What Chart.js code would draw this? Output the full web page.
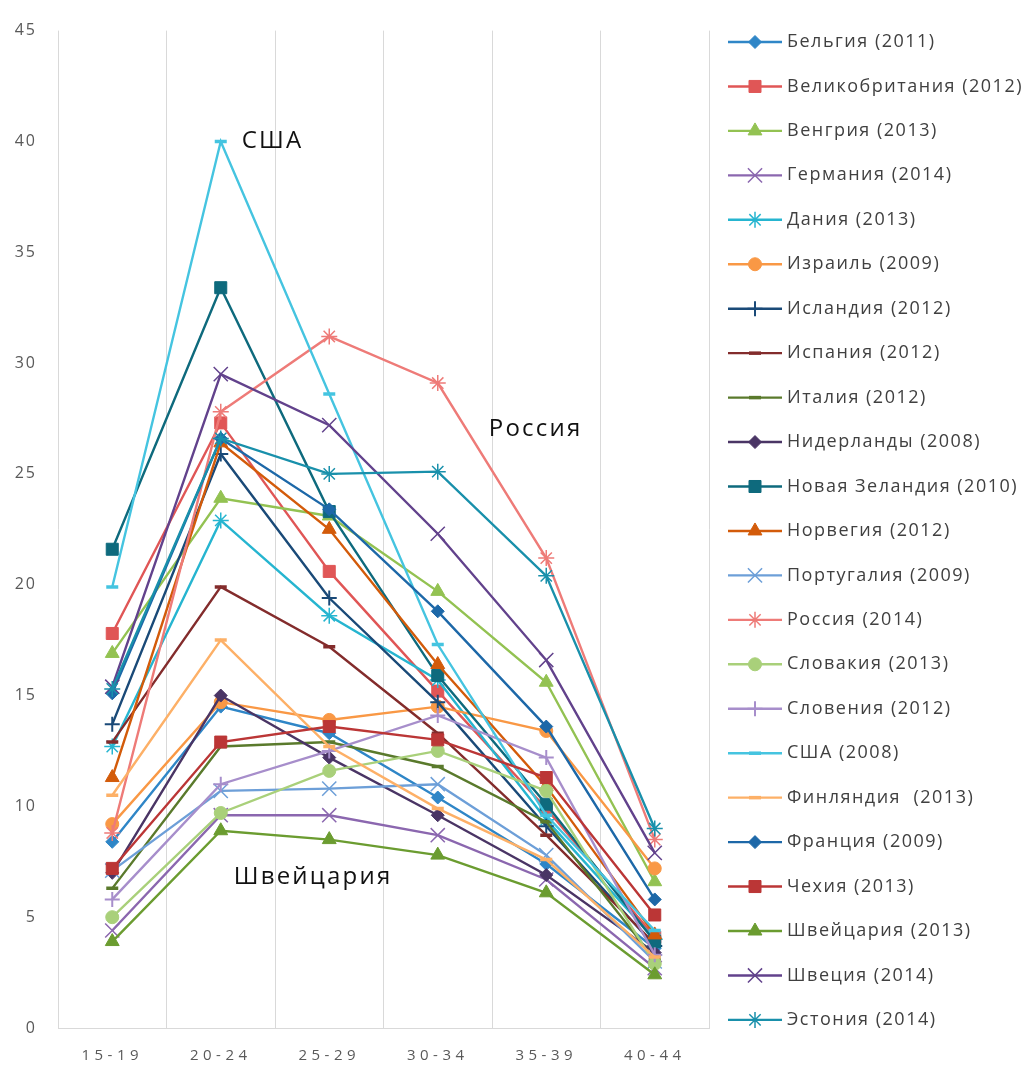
<!DOCTYPE html>
<html lang="ru">
<head>
<meta charset="utf-8">
<script src="https://cdn.jsdelivr.net/npm/chart.js@4.4.1/dist/chart.umd.min.js"></script>
<style>
  html, body { margin: 0; padding: 0; background: #ffffff; }
  #wrap { position: relative; width: 1030px; height: 1066px; }
</style>
</head>
<body>
<div id="wrap"><canvas id="chart"></canvas></div>
<script>
// Age groups on the category axis
const ageGroups = ['15-19', '20-24', '25-29', '30-34', '35-39', '40-44'];
const yTicks = [0, 5, 10, 15, 20, 25, 30, 35, 40, 45];

// Series names, in legend order
const countries = [
  'Бельгия (2011)', 'Великобритания (2012)', 'Венгрия (2013)', 'Германия (2014)',
  'Дания (2013)', 'Израиль (2009)', 'Исландия (2012)', 'Испания (2012)',
  'Италия (2012)', 'Нидерланды (2008)', 'Новая Зеландия (2010)', 'Норвегия (2012)',
  'Португалия (2009)', 'Россия (2014)', 'Словакия (2013)', 'Словения (2012)',
  'США (2008)', 'Финляндия  (2013)', 'Франция (2009)', 'Чехия (2013)',
  'Швейцария (2013)', 'Швеция (2014)', 'Эстония (2014)'
];

// Values per age group
const belgium     = [8.4, 14.5, 13.3, 10.4, 7.4, 3.6];
const uk          = [17.8, 27.3, 20.6, 15.2, 9.9, 4.1];
const hungary     = [16.9, 23.9, 23.1, 19.7, 15.6, 6.6];
const germany     = [4.4, 9.6, 9.6, 8.7, 6.7, 2.7];
const denmark     = [12.7, 22.9, 18.6, 15.7, 9.4, 4.0];
const israel      = [9.2, 14.7, 13.9, 14.5, 13.4, 7.2];
const iceland     = [13.7, 25.9, 19.4, 14.7, 9.1, 3.7];
const spain       = [12.9, 19.9, 17.2, 13.3, 8.7, 3.8];
const italy       = [6.3, 12.7, 12.9, 11.8, 9.3, 3.1];
const netherlands = [7.0, 15.0, 12.2, 9.6, 6.9, 3.4];
const newZealand  = [21.6, 33.4, 23.3, 15.9, 10.1, 3.9];
const norway      = [11.3, 26.4, 22.5, 16.4, 10.9, 4.2];
const portugal    = [7.1, 10.7, 10.8, 11.0, 7.8, 3.0];
const russia      = [8.8, 27.8, 31.2, 29.1, 21.2, 8.5];
const slovakia    = [5.0, 9.7, 11.6, 12.5, 10.7, 2.9];
const slovenia    = [5.8, 11.0, 12.5, 14.1, 12.2, 3.3];
const usa         = [19.9, 40.0, 28.6, 17.3, 9.6, 4.4];
const finland     = [10.5, 17.5, 12.7, 9.9, 7.6, 3.2];
const france      = [15.1, 26.6, 23.4, 18.8, 13.6, 5.8];
const czechia     = [7.2, 12.9, 13.6, 13.0, 11.3, 5.1];
const switzerland = [3.9, 8.9, 8.5, 7.8, 6.1, 2.4];
const sweden      = [15.4, 29.5, 27.2, 22.3, 16.6, 7.9];
const estonia     = [15.3, 26.6, 25.0, 25.1, 20.4, 9.0];

const seriesValues = [
  belgium, uk, hungary, germany, denmark, israel, iceland, spain, italy,
  netherlands, newZealand, norway, portugal, russia, slovakia, slovenia,
  usa, finland, france, czechia, switzerland, sweden, estonia
];

// Line colours and marker shapes
const seriesColors = [
  '#2F86C7', '#E05656', '#93C252', '#8B67AF', '#26B5D0', '#F99845', '#1A4A78', '#832C2C', '#5A7A2C',
  '#4A3565', '#0E6A7D', '#D35B0A', '#6D9FD8', '#EE7B78', '#A9D07A', '#A78ECB', '#45C4E0', '#FDB067',
  '#1D68A8', '#BB3636', '#6B9C30', '#62428C', '#1990AB'
];
const markerCycle = ['rectRot', 'rect', 'triangle', 'crossRot', 'star', 'circle', 'cross', 'line', 'line'];
const markerRadius = { rectRot: 6.5, rect: 8.5, triangle: 8, crossRot: 10, star: 8, circle: 6.5, cross: 7.5, line: 6 };
const markerBorder = { rectRot: 1, rect: 1, triangle: 1, crossRot: 1.5, star: 1.5, circle: 1, cross: 2, line: 3.5 };

// Free text labels placed next to three notable series
const callouts = [
  { text: 'США', cat: 1, dx: 21, value: 40.0 },
  { text: 'Россия', cat: 3, dx: 51, value: 27.0 },
  { text: 'Швейцария', cat: 1, dx: 13, value: 6.8 }
];

const FONT = '"Open Sans", "Liberation Sans", Arial, sans-serif';
const n = countries.length;

const datasets = countries.map((name, i) => {
  const style = markerCycle[i % markerCycle.length];
  return {
    label: name,
    data: seriesValues[i],
    borderColor: seriesColors[i],
    backgroundColor: seriesColors[i],
    borderWidth: 2.4,
    tension: 0,
    pointStyle: style,
    pointRadius: markerRadius[style],
    pointHoverRadius: markerRadius[style],
    pointBorderWidth: markerBorder[style],
    pointBackgroundColor: seriesColors[i],
    pointBorderColor: seriesColors[i],
    order: n - i
  };
});

// Wider tracking for axis text
const spacingPlugin = {
  id: 'spacing',
  beforeDraw(chart) { chart.ctx.letterSpacing = '2px'; },
  afterDraw(chart) { chart.ctx.letterSpacing = '0px'; }
};

const calloutPlugin = {
  id: 'callouts',
  afterDatasetsDraw(chart) {
    const ctx = chart.ctx;
    const xs = chart.scales.x, ys = chart.scales.y;
    ctx.save();
    ctx.font = '24px ' + FONT;
    ctx.letterSpacing = '2.2px';
    ctx.fillStyle = '#111111';
    ctx.textAlign = 'left';
    ctx.textBaseline = 'middle';
    callouts.forEach(c => {
      ctx.fillText(c.text, xs.getPixelForValue(c.cat) + c.dx, ys.getPixelForValue(c.value));
    });
    ctx.restore();
  }
};

const legendPlugin = {
  id: 'sideLegend',
  afterDraw(chart) {
    const ctx = chart.ctx;
    const left = chart.chartArea.right + 19;
    const top = 42, step = 44.45, sample = 54;
    ctx.save();
    chart.data.datasets.forEach((ds, i) => {
      const y = top + i * step;
      ctx.strokeStyle = ds.borderColor;
      ctx.lineWidth = 2.4;
      ctx.beginPath();
      ctx.moveTo(left, y);
      ctx.lineTo(left + sample, y);
      ctx.stroke();
      ctx.fillStyle = ds.pointBackgroundColor;
      ctx.strokeStyle = ds.pointBorderColor;
      ctx.lineWidth = ds.pointBorderWidth;
      Chart.helpers.drawPoint(ctx, {
        pointStyle: ds.pointStyle, radius: ds.pointRadius, rotation: 0, borderWidth: ds.pointBorderWidth
      }, left + sample / 2, y);
      ctx.font = '18px ' + FONT;
      ctx.letterSpacing = '1.5px';
      ctx.fillStyle = '#404040';
      ctx.textAlign = 'left';
      ctx.textBaseline = 'middle';
      ctx.fillText(ds.label, left + sample + 5, y);
    });
    ctx.restore();
  }
};

new Chart(document.getElementById('chart'), {
  type: 'line',
  data: { labels: ageGroups, datasets },
  options: {
    responsive: true,
    maintainAspectRatio: false,
    animation: false,
    layout: { padding: { top: 25, right: 321, left: 0, bottom: 0 } },
    plugins: { legend: { display: false }, tooltip: { enabled: false } },
    scales: {
      x: {
        offset: true,
        grid: { offset: true, color: '#D9D9D9', lineWidth: 1, drawTicks: false },
        border: { color: '#D9D9D9', width: 1 },
        ticks: { color: '#595959', font: { family: FONT, size: 15 }, padding: 19, maxRotation: 0 },
        afterFit(scale) {
          scale.height = 38;
          if (!scale._tracked) {
            scale._tracked = true;
            const base = scale.drawLabels;
            scale.drawLabels = function (area) {
              const ctx = this.ctx;
              const prev = ctx.letterSpacing;
              ctx.letterSpacing = '4.5px';
              base.call(this, area);
              ctx.letterSpacing = prev;
            };
          }
        }
      },
      y: {
        min: 0,
        max: 45,
        afterBuildTicks(scale) { scale.ticks = yTicks.map(v => ({ value: v })); },
        grid: { display: false, drawTicks: false },
        border: { display: false },
        ticks: { color: '#595959', font: { family: FONT, size: 16 }, padding: 21 },
        afterFit(scale) { scale.width = 58; }
      }
    }
  },
  plugins: [spacingPlugin, calloutPlugin, legendPlugin]
});
</script>
</body>
</html>
